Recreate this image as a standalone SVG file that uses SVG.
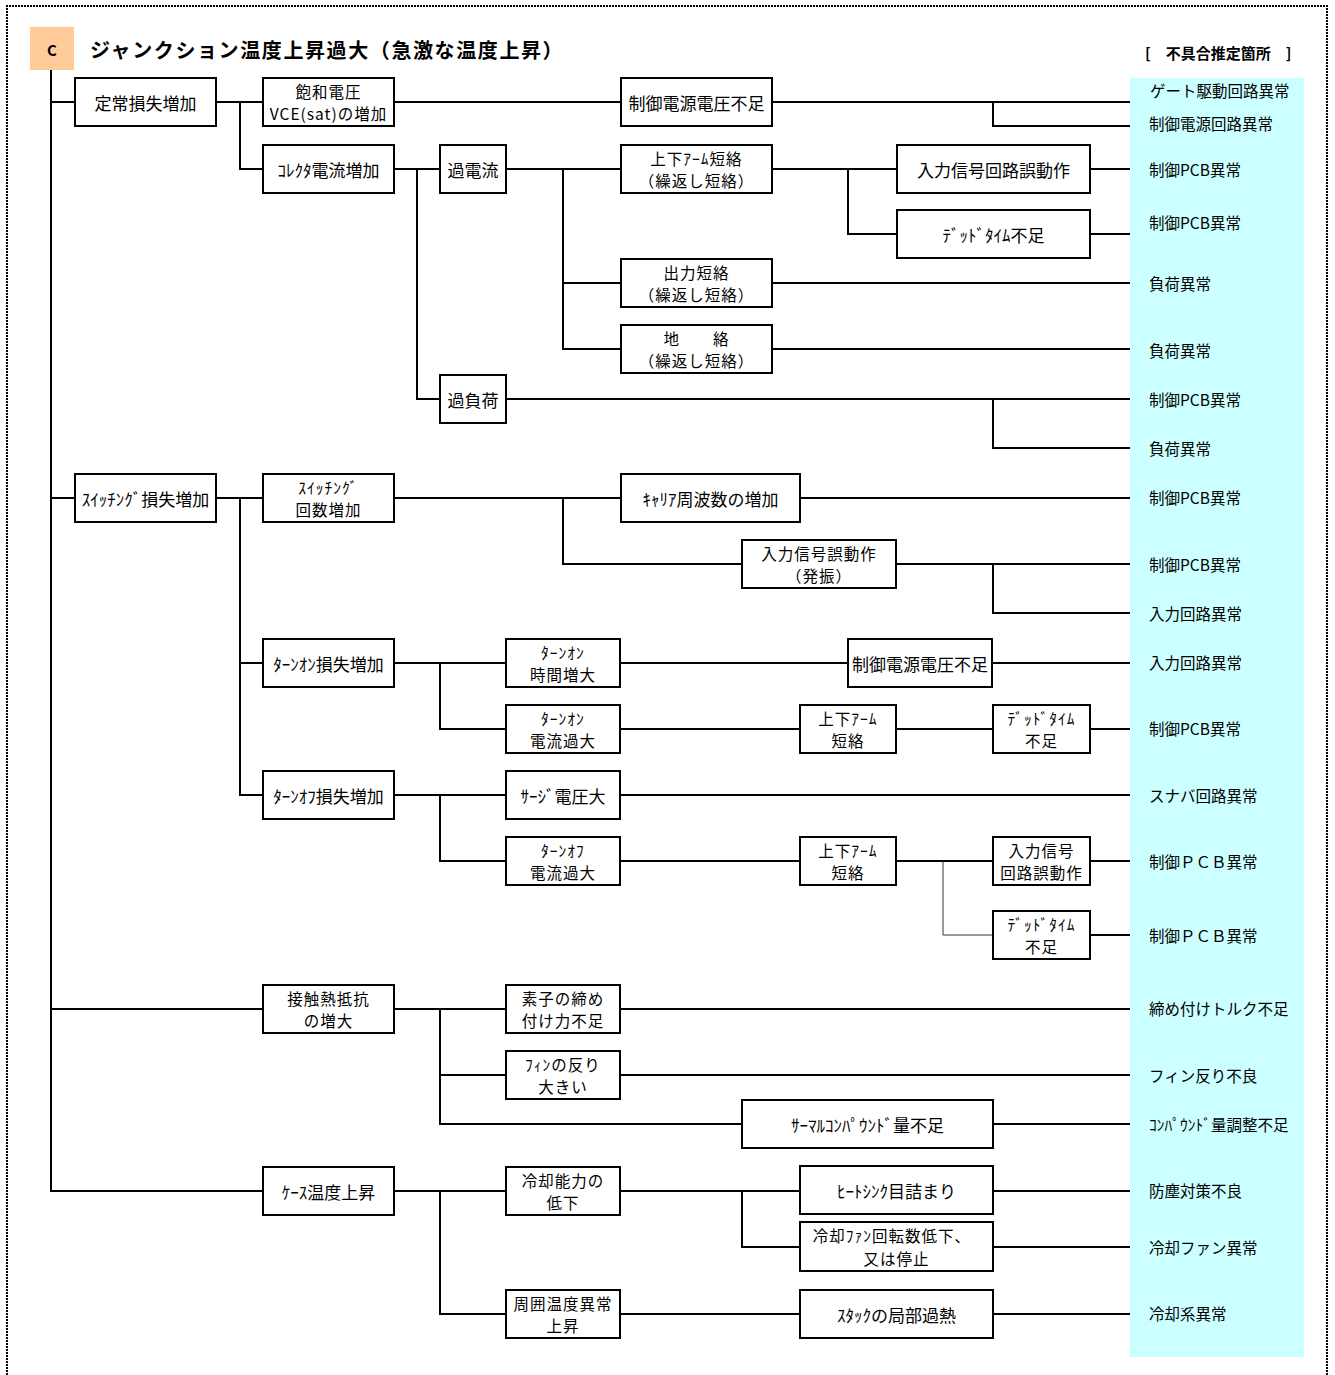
<svg xmlns="http://www.w3.org/2000/svg" width="1335" height="1375" viewBox="0 0 1335 1375">
  <style>
    .frame { fill: none; stroke: #000; stroke-width: 2; stroke-dasharray: 2 1; }
    .box { fill: #fff; stroke: #000; stroke-width: 2; }
    .wire { fill: none; stroke: #000; stroke-width: 2; }
    .thin { fill: none; stroke: #333; stroke-width: 1; }
    text { font-family: "Noto Sans CJK JP", "Noto Sans", sans-serif; fill: #000; }
    .t { font-size: 17px; text-anchor: middle; dominant-baseline: central; }
    .t2 { font-size: 15.5px; letter-spacing: 1px; text-anchor: middle; dominant-baseline: central; }
    .r { font-size: 15.5px; dominant-baseline: central; }
  </style>

  <rect width="1335" height="1375" fill="#fff"/>
  <!-- dotted page frame (open at bottom) -->
  <polyline class="frame" points="7,1375 7,6 1327,6 1327,1375"/>

  <!-- header -->
  <g id="header">
    <rect x="30" y="27" width="44" height="43" fill="#FFCC99"/>
    <text x="52" y="49" style="font-size:15px;font-weight:bold;text-anchor:middle;dominant-baseline:central">C</text>
    <text x="90" y="49" style="font-size:20px;font-weight:bold;letter-spacing:1.6px;dominant-baseline:central">ジャンクション温度上昇過大（急激な温度上昇）</text>
    <text x="1145" y="52" style="font-size:15px;font-weight:bold;dominant-baseline:central">[　不具合推定箇所　]</text>
  </g>

  <!-- cause column background -->
  <rect x="1130" y="78" width="174" height="1279" fill="#CCFFFF"/>

  <!-- connectors -->
  <g id="connectors">
    <!-- trunk -->
    <path class="wire" d="M51,70 V1191 H263 M51,102 H75 M51,498 H75 M51,1009 H263"/>
    <!-- steady-state loss -->
    <path class="wire" d="M216,102 H263 M240,102 V169 H263"/>
    <path class="wire" d="M394,102 H621 M772,102 H1130 M993,102 V126 H1130"/>
    <path class="wire" d="M394,169 H440 M417,169 V399 H440"/>
    <path class="wire" d="M506,169 H621 M563,169 V349 H621 M563,283 H621"/>
    <path class="wire" d="M772,169 H897 M848,169 V234 H897"/>
    <path class="wire" d="M1090,169 H1130 M1090,234 H1130"/>
    <path class="wire" d="M772,283 H1130 M772,349 H1130"/>
    <path class="wire" d="M506,399 H1130 M993,399 V448 H1130"/>
    <!-- switching loss -->
    <path class="wire" d="M216,498 H263 M240,498 V795 H263 M240,663 H263"/>
    <path class="wire" d="M394,498 H621 M563,498 V564 H742 M800,498 H1130"/>
    <path class="wire" d="M896,564 H1130 M993,564 V613 H1130"/>
    <path class="wire" d="M394,663 H506 M440,663 V729 H506"/>
    <path class="wire" d="M620,663 H848 M992,663 H1130"/>
    <path class="wire" d="M620,729 H800 M896,729 H993 M1090,729 H1130"/>
    <path class="wire" d="M394,795 H506 M440,795 V861 H506 M620,795 H1130"/>
    <path class="wire" d="M620,861 H800 M896,861 H993 M1090,861 H1130 M1090,935 H1130"/>
    <path class="thin" d="M943,861 V935 H993"/>
    <!-- contact thermal resistance -->
    <path class="wire" d="M394,1009 H506 M440,1009 V1124 H742 M440,1075 H506"/>
    <path class="wire" d="M620,1009 H1130 M620,1075 H1130 M993,1124 H1130"/>
    <!-- case temperature -->
    <path class="wire" d="M394,1191 H506 M440,1191 V1314 H506"/>
    <path class="wire" d="M620,1191 H800 M742,1191 V1247 H800 M620,1314 H800"/>
    <path class="wire" d="M993,1191 H1130 M993,1247 H1130 M993,1314 H1130"/>
  </g>

  <!-- nodes -->
  <g id="n-teijo"><rect class="box" x="75" y="78" width="141" height="48"/><text class="t" x="145.5" y="102">定常損失増加</text></g>
  <g id="n-howa"><rect class="box" x="263" y="78" width="131" height="48"/><text class="t2" x="328.5" y="90.75">飽和電圧<tspan x="328.5" dy="22.5">VCE(sat)の増加</tspan></text></g>
  <g id="n-collector"><rect class="box" x="263" y="145" width="131" height="48"/><text class="t" x="328.5" y="169">ｺﾚｸﾀ電流増加</text></g>
  <g id="n-overcurrent"><rect class="box" x="440" y="145" width="66" height="48"/><text class="t" x="473" y="169">過電流</text></g>
  <g id="n-overload"><rect class="box" x="440" y="375" width="66" height="48"/><text class="t" x="473" y="399">過負荷</text></g>
  <g id="n-ctrlv1"><rect class="box" x="621" y="78" width="151" height="48"/><text class="t" x="696.5" y="102">制御電源電圧不足</text></g>
  <g id="n-arm1"><rect class="box" x="621" y="145" width="151" height="48"/><text class="t2" x="696.5" y="157.75">上下ｱｰﾑ短絡<tspan x="696.5" dy="22.5">（繰返し短絡）</tspan></text></g>
  <g id="n-outshort"><rect class="box" x="621" y="259" width="151" height="48"/><text class="t2" x="696.5" y="271.75">出力短絡<tspan x="696.5" dy="22.5">（繰返し短絡）</tspan></text></g>
  <g id="n-ground"><rect class="box" x="621" y="325" width="151" height="48"/><text class="t2" x="696.5" y="337.75">地　　絡<tspan x="696.5" dy="22.5">（繰返し短絡）</tspan></text></g>
  <g id="n-insig1"><rect class="box" x="897" y="145" width="193" height="48"/><text class="t" x="993.5" y="169">入力信号回路誤動作</text></g>
  <g id="n-dead1"><rect class="box" x="897" y="210" width="193" height="48"/><text class="t" x="993.5" y="234">ﾃﾞｯﾄﾞﾀｲﾑ不足</text></g>

  <g id="n-swloss"><rect class="box" x="75" y="474" width="141" height="48"/><text class="t" x="145.5" y="498">ｽｲｯﾁﾝｸﾞ損失増加</text></g>
  <g id="n-swcount"><rect class="box" x="263" y="474" width="131" height="48"/><text class="t2" x="328.5" y="486.75">ｽｲｯﾁﾝｸﾞ<tspan x="328.5" dy="22.5">回数増加</tspan></text></g>
  <g id="n-carrier"><rect class="box" x="621" y="474" width="179" height="48"/><text class="t" x="710.5" y="498">ｷｬﾘｱ周波数の増加</text></g>
  <g id="n-osc"><rect class="box" x="742" y="540" width="154" height="48"/><text class="t2" x="819" y="552.75">入力信号誤動作<tspan x="819" dy="22.5">（発振）</tspan></text></g>
  <g id="n-onloss"><rect class="box" x="263" y="639" width="131" height="48"/><text class="t" x="328.5" y="663">ﾀｰﾝｵﾝ損失増加</text></g>
  <g id="n-ontime"><rect class="box" x="506" y="639" width="114" height="48"/><text class="t2" x="563" y="651.75">ﾀｰﾝｵﾝ<tspan x="563" dy="22.5">時間増大</tspan></text></g>
  <g id="n-ctrlv2"><rect class="box" x="848" y="639" width="144" height="48"/><text class="t" x="920" y="663">制御電源電圧不足</text></g>
  <g id="n-oncur"><rect class="box" x="506" y="705" width="114" height="48"/><text class="t2" x="563" y="717.75">ﾀｰﾝｵﾝ<tspan x="563" dy="22.5">電流過大</tspan></text></g>
  <g id="n-arm2"><rect class="box" x="800" y="705" width="96" height="48"/><text class="t2" x="848" y="717.75">上下ｱｰﾑ<tspan x="848" dy="22.5">短絡</tspan></text></g>
  <g id="n-dead2"><rect class="box" x="993" y="705" width="97" height="48"/><text class="t2" x="1041.5" y="717.75">ﾃﾞｯﾄﾞﾀｲﾑ<tspan x="1041.5" dy="22.5">不足</tspan></text></g>
  <g id="n-offloss"><rect class="box" x="263" y="771" width="131" height="48"/><text class="t" x="328.5" y="795">ﾀｰﾝｵﾌ損失増加</text></g>
  <g id="n-surge"><rect class="box" x="506" y="771" width="114" height="48"/><text class="t" x="563" y="795">ｻｰｼﾞ電圧大</text></g>
  <g id="n-offcur"><rect class="box" x="506" y="837" width="114" height="48"/><text class="t2" x="563" y="849.75">ﾀｰﾝｵﾌ<tspan x="563" dy="22.5">電流過大</tspan></text></g>
  <g id="n-arm3"><rect class="box" x="800" y="837" width="96" height="48"/><text class="t2" x="848" y="849.75">上下ｱｰﾑ<tspan x="848" dy="22.5">短絡</tspan></text></g>
  <g id="n-insig2"><rect class="box" x="993" y="837" width="97" height="48"/><text class="t2" x="1041.5" y="849.75">入力信号<tspan x="1041.5" dy="22.5">回路誤動作</tspan></text></g>
  <g id="n-dead3"><rect class="box" x="993" y="911" width="97" height="48"/><text class="t2" x="1041.5" y="923.75">ﾃﾞｯﾄﾞﾀｲﾑ<tspan x="1041.5" dy="22.5">不足</tspan></text></g>

  <g id="n-contact"><rect class="box" x="263" y="985" width="131" height="48"/><text class="t2" x="328.5" y="997.75">接触熱抵抗<tspan x="328.5" dy="22.5">の増大</tspan></text></g>
  <g id="n-clamp"><rect class="box" x="506" y="985" width="114" height="48"/><text class="t2" x="563" y="997.75">素子の締め<tspan x="563" dy="22.5">付け力不足</tspan></text></g>
  <g id="n-fin"><rect class="box" x="506" y="1051" width="114" height="48"/><text class="t2" x="563" y="1063.75">ﾌｨﾝの反り<tspan x="563" dy="22.5">大きい</tspan></text></g>
  <g id="n-compound"><rect class="box" x="742" y="1100" width="251" height="48"/><text class="t" x="867.5" y="1124">ｻｰﾏﾙｺﾝﾊﾟｳﾝﾄﾞ量不足</text></g>

  <g id="n-case"><rect class="box" x="263" y="1167" width="131" height="48"/><text class="t" x="328.5" y="1191">ｹｰｽ温度上昇</text></g>
  <g id="n-cooling"><rect class="box" x="506" y="1167" width="114" height="48"/><text class="t2" x="563" y="1179.75">冷却能力の<tspan x="563" dy="22.5">低下</tspan></text></g>
  <g id="n-ambient"><rect class="box" x="506" y="1290" width="114" height="48"/><text class="t2" x="563" y="1302.75">周囲温度異常<tspan x="563" dy="22.5">上昇</tspan></text></g>
  <g id="n-heatsink"><rect class="box" x="800" y="1166" width="193" height="48"/><text class="t" x="896.5" y="1190">ﾋｰﾄｼﾝｸ目詰まり</text></g>
  <g id="n-fan"><rect class="box" x="800" y="1222" width="193" height="49"/><text class="t2" x="892" y="1235.25">冷却ﾌｧﾝ回転数低下、<tspan x="896.5" dy="22.5">又は停止</tspan></text></g>
  <g id="n-stack"><rect class="box" x="800" y="1290" width="193" height="48"/><text class="t" x="896.5" y="1314">ｽﾀｯｸの局部過熱</text></g>

  <!-- estimated fault locations -->
  <g id="causes">
    <text class="r" x="1150" y="90">ゲート駆動回路異常</text>
    <text class="r" x="1149" y="123">制御電源回路異常</text>
    <text class="r" x="1149" y="169">制御PCB異常</text>
    <text class="r" x="1149" y="222">制御PCB異常</text>
    <text class="r" x="1149" y="283">負荷異常</text>
    <text class="r" x="1149" y="350">負荷異常</text>
    <text class="r" x="1149" y="399">制御PCB異常</text>
    <text class="r" x="1149" y="448">負荷異常</text>
    <text class="r" x="1149" y="497">制御PCB異常</text>
    <text class="r" x="1149" y="564">制御PCB異常</text>
    <text class="r" x="1149" y="613">入力回路異常</text>
    <text class="r" x="1149" y="662">入力回路異常</text>
    <text class="r" x="1149" y="728">制御PCB異常</text>
    <text class="r" x="1149" y="795">スナバ回路異常</text>
    <text class="r" x="1149" y="861">制御ＰＣＢ異常</text>
    <text class="r" x="1149" y="935">制御ＰＣＢ異常</text>
    <text class="r" x="1149" y="1008">締め付けトルク不足</text>
    <text class="r" x="1149" y="1075">フィン反り不良</text>
    <text class="r" x="1149" y="1124">ｺﾝﾊﾟｳﾝﾄﾞ量調整不足</text>
    <text class="r" x="1149" y="1190">防塵対策不良</text>
    <text class="r" x="1149" y="1247">冷却ファン異常</text>
    <text class="r" x="1149" y="1313">冷却系異常</text>
  </g>
</svg>
